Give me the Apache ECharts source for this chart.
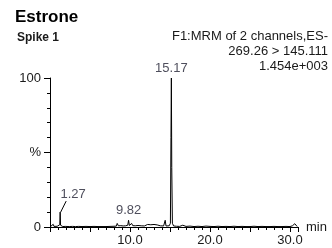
<!DOCTYPE html>
<html>
<head>
<meta charset="utf-8">
<script src="https://cdn.jsdelivr.net/npm/echarts@6/dist/echarts.min.js"></script>
<style>
html,body{margin:0;padding:0;background:#fff;}
#c{width:332px;height:248px;}
</style>
</head>
<body>
<div id="c"></div>
<script>
// Chromatogram (retention time in min, relative intensity in %)
var times = [0.0,0.2,0.4,0.5,0.7,0.9,1.1,1.22,1.27,1.32,1.45,1.6,1.9,2.05,2.15,2.4,2.8,3.2,3.6,4.0,4.5,5.0,5.5,6.0,6.5,6.6,7.0,7.5,8.0,8.2,8.3,8.4,8.55,8.7,8.85,9.0,9.15,9.3,9.45,9.6,9.72,9.82,9.92,10.05,10.2,10.35,10.5,10.65,10.8,11.0,11.2,11.4,11.6,11.8,12.0,12.2,12.4,12.6,12.8,13.0,13.2,13.4,13.6,13.8,14.0,14.2,14.4,14.5,14.7,14.9,15.05,15.12,15.17,15.22,15.3,15.45,15.6,15.8,16.2,16.6,17.0,17.5,18.0,18.5,19.0,19.5,20.0,20.5,21.0,21.5,22.0,22.5,23.0,23.5,24.0,24.5,25.0,25.5,26.0,26.5,27.0,27.5,28.0,28.5,29.0,29.5,30.0,30.3,30.6,30.9];
var intensity = [0.0,0.3,1.8,0.4,0.3,0.5,0.6,1.5,10.0,1.2,0.5,0.3,0.4,1.6,0.4,0.3,0.4,0.3,0.4,0.3,0.4,0.3,0.4,0.3,0.3,1.4,0.3,0.4,0.5,1.6,0.6,2.4,0.8,2.0,0.9,2.2,0.7,2.0,0.8,1.8,1.2,4.5,1.0,1.8,2.4,0.9,2.0,0.8,1.5,1.0,1.8,0.8,2.0,0.7,1.4,1.7,0.8,1.5,0.9,1.7,0.7,1.4,1.9,0.8,1.2,0.7,4.5,0.7,1.0,0.8,2.5,60.0,100.0,40.0,2.5,0.7,1.5,0.5,0.4,1.2,0.4,0.6,0.3,0.5,0.3,0.6,0.4,0.3,0.5,0.3,0.4,0.3,0.5,0.3,0.4,0.3,0.3,0.5,0.3,0.4,0.3,0.3,0.4,0.3,0.3,0.4,0.3,0.8,2.2,0.3];

var peakTimes = [1.27, 9.82, 15.17];
var peakHeights = [10.0, 4.5, 100.0];
var peakLabels = ['1.27', '9.82', '15.17'];

var xMin = 0, xMax = 31, xInterval = 5;
var xLabelTicks = [10, 20, 30];
var yMin = 0, yMax = 100, yInterval = 50;
var yLabelMap = {0: '0', 50: '%', 100: '100'};

var titleText = 'Estrone';
var subTitleText = 'Spike 1';
var infoLines = ['F1:MRM of 2 channels,ES-', '269.26 > 145.111', '1.454e+003'];

var FONT = 'Liberation Sans, Arial, sans-serif';
var TXT = '#1a1a1a';

var lineData = times.map(function (t, i) { return [t, intensity[i]]; });
var peakData = peakTimes.map(function (t, i) {
  return {value: [t, peakHeights[i]], name: peakLabels[i]};
});

var chart = echarts.init(document.getElementById('c'), null, {renderer: 'canvas'});
var baseGraphics = [
  {type: 'text', left: 15, top: 9, style: {text: titleText, font: 'bold 17px ' + FONT, fill: '#000'}},
  {type: 'text', left: 17, top: 32, style: {text: subTitleText, font: 'bold 12px ' + FONT, fill: TXT}},
  {type: 'text', right: 4, top: 30, style: {text: infoLines[0], font: '13px ' + FONT, fill: TXT, textAlign: 'right'}},
  {type: 'text', right: 4, top: 45, style: {text: infoLines[1], font: '13px ' + FONT, fill: TXT, textAlign: 'right'}},
  {type: 'text', right: 4, top: 60, style: {text: infoLines[2], font: '13px ' + FONT, fill: TXT, textAlign: 'right'}}
];
chart.setOption({
  animation: false,
  backgroundColor: '#fff',
  grid: {left: 50, top: 78, width: 248, height: 149, containLabel: false},
  graphic: baseGraphics,
  xAxis: {
    type: 'value', min: xMin, max: xMax, interval: xInterval,
    name: 'min', nameLocation: 'end', nameGap: 8,
    nameTextStyle: {fontSize: 13, color: TXT, fontFamily: FONT, verticalAlign: 'middle'},
    axisLine: {show: true, onZero: false, lineStyle: {color: '#000', width: 1}},
    axisTick: {show: true, length: 5, lineStyle: {color: '#000'}},
    minorTick: {show: true, splitNumber: 5, length: 3, lineStyle: {color: '#000'}},
    splitLine: {show: false},
    axisLabel: {
      fontSize: 13, color: TXT, fontFamily: FONT, margin: 7,
      formatter: function (v) { return xLabelTicks.indexOf(v) >= 0 ? v.toFixed(1) : ''; }
    }
  },
  yAxis: {
    type: 'value', min: yMin, max: yMax, interval: yInterval,
    axisLine: {show: true, lineStyle: {color: '#000', width: 1}},
    axisTick: {show: true, length: 6, lineStyle: {color: '#000'}},
    minorTick: {show: true, splitNumber: 5, length: 3, lineStyle: {color: '#000'}},
    splitLine: {show: false},
    axisLabel: {
      fontSize: 13, color: TXT, fontFamily: FONT, margin: 9,
      formatter: function (v) { return yLabelMap[v] !== undefined ? yLabelMap[v] : ''; }
    }
  },
  series: [
    {
      type: 'line', data: lineData, showSymbol: false, symbol: 'none',
      lineStyle: {color: '#000', width: 1}, silent: true, z: 2
    },
    {
      type: 'scatter', data: peakData, symbolSize: 0, silent: true, z: 3,
      label: {
        show: true, position: 'top', distance: 3, fontSize: 13, color: '#223',
        fontFamily: FONT,
        formatter: function (p) { return p.name; }
      },
      labelLayout: function (params) {
        if (params.dataIndex === 0) {
          return {dx: 13, dy: -8};
        }
        return {};
      }
    }
  ]
});

// leader line for the first (offset) peak label, anchored through the axis scales
var p0 = chart.convertToPixel({gridIndex: 0}, [peakTimes[0], peakHeights[0]]);
chart.setOption({
  graphic: baseGraphics.concat([{
    type: 'line', silent: true, z: 10,
    shape: {x1: p0[0] + 0.5, y1: p0[1], x2: p0[0] + 6, y2: p0[1] - 11},
    style: {stroke: '#000', lineWidth: 1}
  }])
});
</script>
</body>
</html>
